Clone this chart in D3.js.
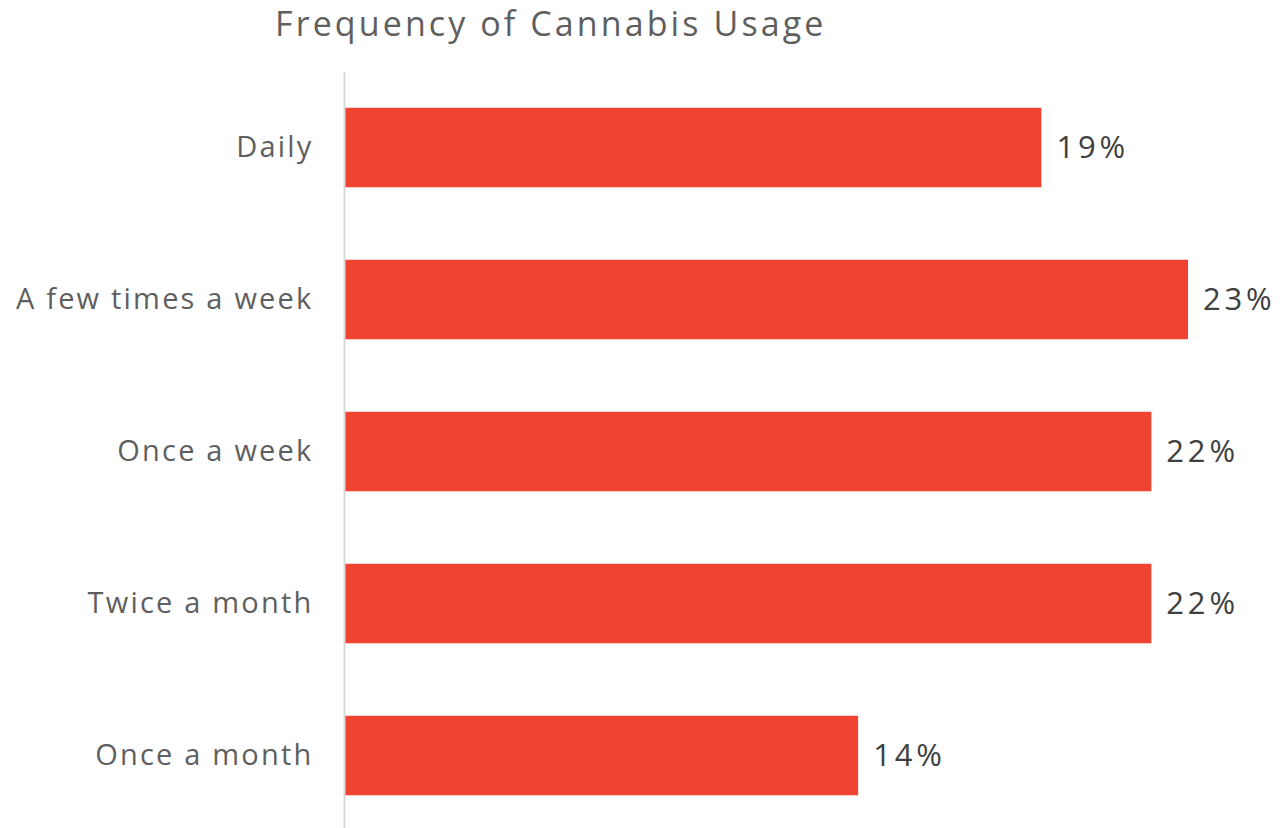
<!DOCTYPE html>
<html>
<head>
<meta charset="utf-8">
<script src="https://cdn.jsdelivr.net/npm/d3@7"></script>
<style>
  html, body { margin: 0; padding: 0; background: #fff; }
  svg { display: block; font-family: "Open Sans", "Noto Sans", sans-serif; }
</style>
</head>
<body>
<svg id="chart" width="1281" height="828"></svg>
<script>
// Share of respondents by frequency of cannabis use (percent)
const titleText = "Frequency of Cannabis Usage";
const categories = ["Daily", "A few times a week", "Once a week", "Twice a month", "Once a month"];
const values = [19, 23, 22, 22, 14];

const svg = d3.select("#chart");
const W = 1281, H = 828;

const x = d3.scaleLinear().domain([0, 23]).range([345, 1188]);
const y = d3.scaleBand()
  .domain(categories)
  .range([71.5, 831.5])
  .paddingInner(0.477)
  .paddingOuter(0.2385);

// Title
svg.append("text")
  .attr("x", 275)
  .attr("y", 36)
  .attr("text-anchor", "start")
  .attr("fill", "#5f5f5f")
  .attr("font-size", 34)
  .attr("letter-spacing", 3.1)
  .text(titleText);

// Bars
svg.append("g").selectAll("rect")
  .data(categories)
  .join("rect")
  .attr("x", x(0))
  .attr("y", d => y(d))
  .attr("width", (d, i) => x(values[i]) - x(0))
  .attr("height", y.bandwidth())
  .attr("fill", "#ee4431");

// Category axis (labels only; the baseline is drawn separately)
const yAxis = svg.append("g")
  .attr("transform", `translate(${x(0) - 0.5},0)`)
  .call(d3.axisLeft(y).tickSize(0).tickPadding(31));
yAxis.select(".domain").remove();
yAxis.selectAll("text")
  .attr("fill", "#5f5f5f")
  .attr("font-size", 29)
  .attr("letter-spacing", 2.2)
  .attr("dy", "0.33em")
  .attr("font-family", "\"Open Sans\", \"Noto Sans\", sans-serif");

svg.append("line")
  .attr("x1", x(0) - 0.5).attr("x2", x(0) - 0.5)
  .attr("y1", 72).attr("y2", H)
  .attr("stroke", "#d9d9d9")
  .attr("stroke-width", 2);

// Value labels
svg.append("g").selectAll("text")
  .data(categories)
  .join("text")
  .attr("x", (d, i) => x(values[i]) + 15)
  .attr("y", d => y(d) + y.bandwidth() / 2)
  .attr("dy", "0.34em")
  .attr("fill", "#404040")
  .attr("font-size", 31)
  .attr("letter-spacing", 3.8)
  .text((d, i) => values[i] + "%");
</script>
</body>
</html>
